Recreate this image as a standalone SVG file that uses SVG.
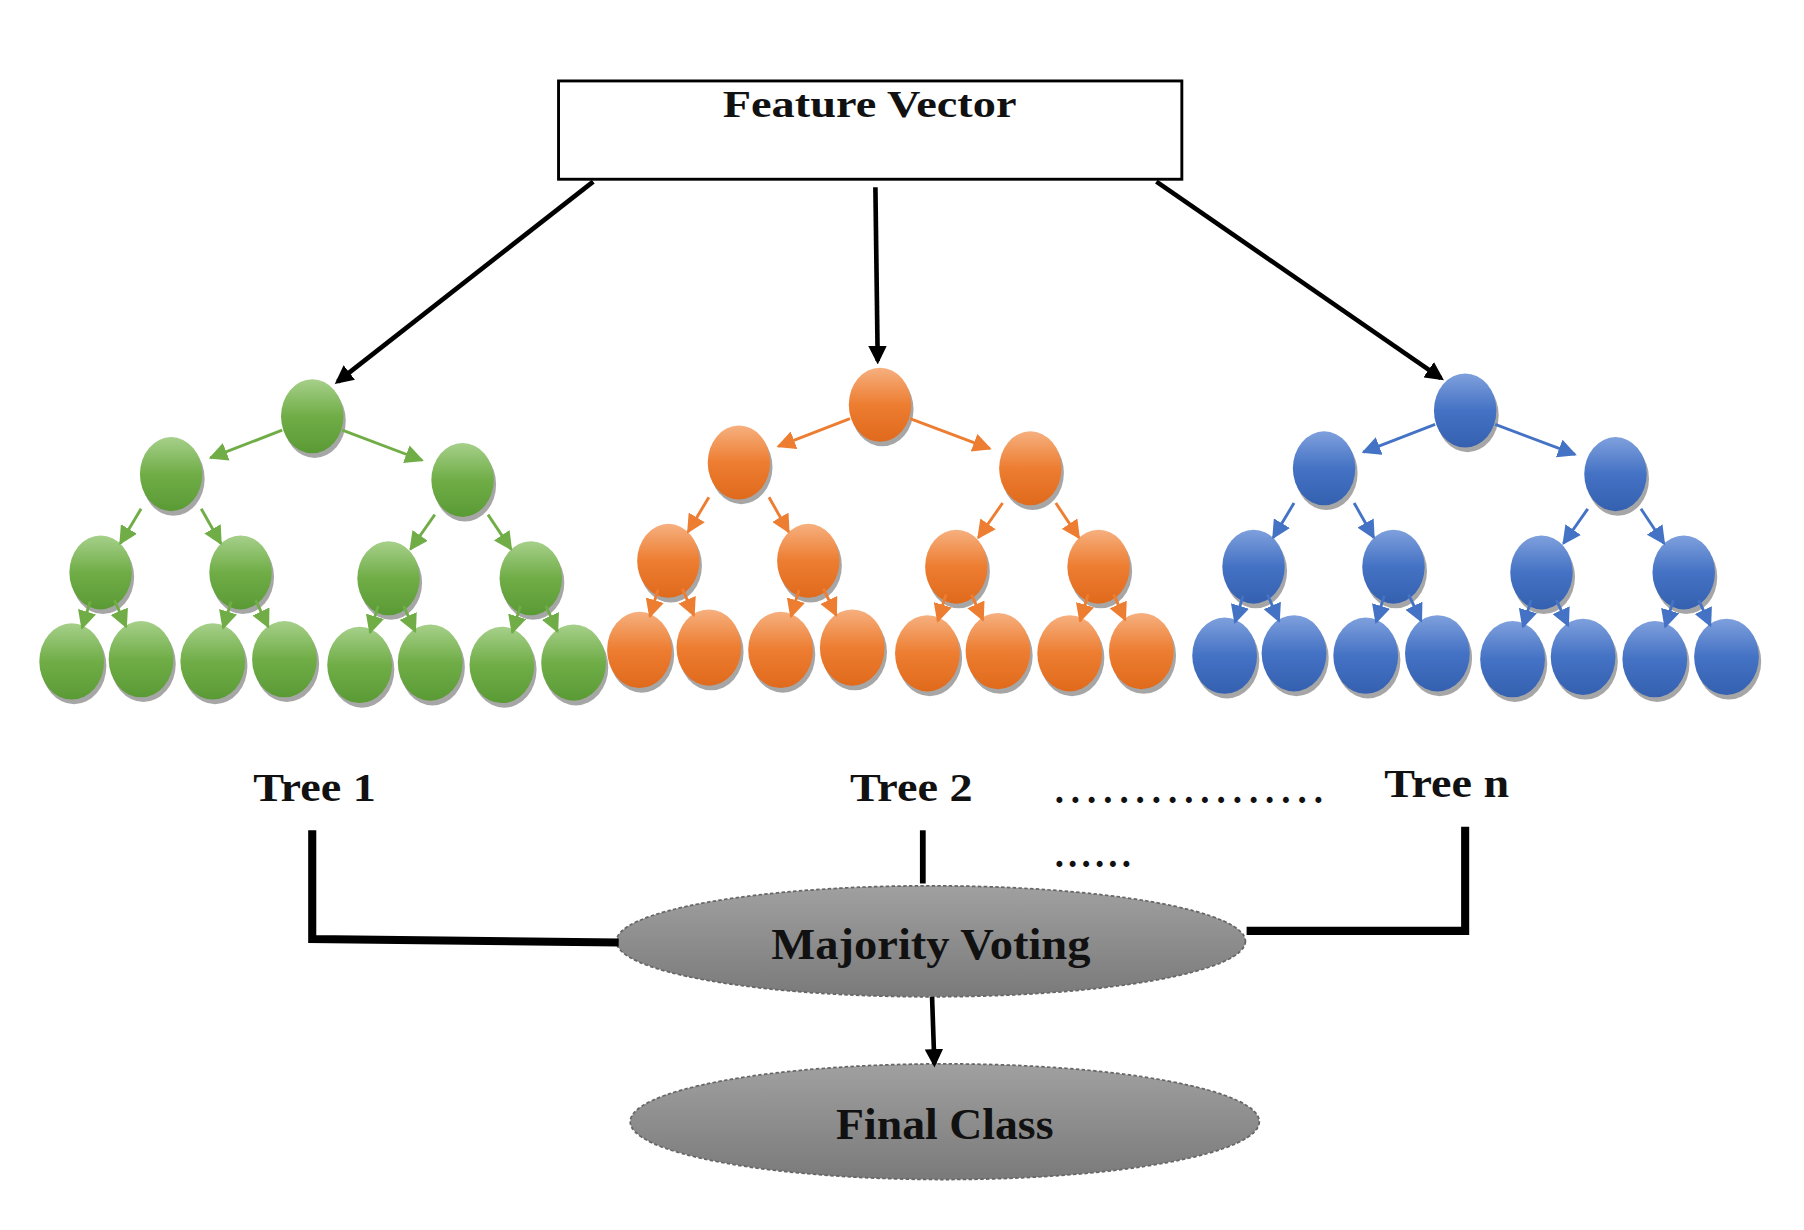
<svg xmlns="http://www.w3.org/2000/svg" width="1804" height="1230" viewBox="0 0 1804 1230">
<style>
text{font-family:"Liberation Serif","Times New Roman",serif;font-weight:bold;fill:#111;text-anchor:middle}
.bl{stroke:#000;fill:none}
.eg{stroke:#70ad47;stroke-width:2.5;marker-end:url(#mg)}
.eo{stroke:#ed7d31;stroke-width:2.5;marker-end:url(#mo)}
.eb{stroke:#4472c4;stroke-width:2.5;marker-end:url(#mb)}
</style>
<defs>
<linearGradient id="gg" x1="0" y1="0" x2="0" y2="1"><stop offset="0" stop-color="#a6d08a"/><stop offset="0.5" stop-color="#70ad47"/><stop offset="1" stop-color="#5a9a35"/></linearGradient>
<linearGradient id="go" x1="0" y1="0" x2="0" y2="1"><stop offset="0" stop-color="#f6b07f"/><stop offset="0.5" stop-color="#ed7d31"/><stop offset="1" stop-color="#e06a1c"/></linearGradient>
<linearGradient id="gb" x1="0" y1="0" x2="0" y2="1"><stop offset="0" stop-color="#7fa0dd"/><stop offset="0.5" stop-color="#4472c4"/><stop offset="1" stop-color="#3560b0"/></linearGradient>
<linearGradient id="gy" x1="0" y1="0" x2="0" y2="1"><stop offset="0" stop-color="#a0a0a0"/><stop offset="1" stop-color="#7a7a7a"/></linearGradient>
<marker id="mg" viewBox="0 0 10 10" refX="9" refY="5" markerWidth="6.5" markerHeight="6.5" orient="auto"><path d="M0,0L10,5L0,10z" fill="#70ad47"/></marker>
<marker id="mo" viewBox="0 0 10 10" refX="9" refY="5" markerWidth="6.5" markerHeight="6.5" orient="auto"><path d="M0,0L10,5L0,10z" fill="#ed7d31"/></marker>
<marker id="mb" viewBox="0 0 10 10" refX="9" refY="5" markerWidth="6.5" markerHeight="6.5" orient="auto"><path d="M0,0L10,5L0,10z" fill="#4472c4"/></marker>
<marker id="mk" viewBox="0 0 10 10" refX="8" refY="5" markerWidth="4" markerHeight="4" orient="auto"><path d="M0,0L10,5L0,10z" fill="#000"/></marker>
<g id="nodes">
<g transform="translate(0,0)"><ellipse cx="2" cy="4" rx="27" ry="32" fill="#000" opacity="0.35"/><ellipse rx="27" ry="32"/></g>
<g transform="translate(-122,50)"><ellipse cx="2" cy="4" rx="27" ry="32" fill="#000" opacity="0.35"/><ellipse rx="27" ry="32"/></g>
<g transform="translate(130,55)"><ellipse cx="2" cy="4" rx="27" ry="32" fill="#000" opacity="0.35"/><ellipse rx="27" ry="32"/></g>
<g transform="translate(-183,135)"><ellipse cx="2" cy="4" rx="27" ry="32" fill="#000" opacity="0.35"/><ellipse rx="27" ry="32"/></g>
<g transform="translate(-62,135)"><ellipse cx="2" cy="4" rx="27" ry="32" fill="#000" opacity="0.35"/><ellipse rx="27" ry="32"/></g>
<g transform="translate(66,140)"><ellipse cx="2" cy="4" rx="27" ry="32" fill="#000" opacity="0.35"/><ellipse rx="27" ry="32"/></g>
<g transform="translate(189,140)"><ellipse cx="2" cy="4" rx="27" ry="32" fill="#000" opacity="0.35"/><ellipse rx="27" ry="32"/></g>
<g transform="translate(-208,212)"><ellipse cx="2" cy="4" rx="28" ry="33" fill="#000" opacity="0.35"/><ellipse rx="28" ry="33"/></g>
<g transform="translate(-148,210)"><ellipse cx="2" cy="4" rx="28" ry="33" fill="#000" opacity="0.35"/><ellipse rx="28" ry="33"/></g>
<g transform="translate(-86,212)"><ellipse cx="2" cy="4" rx="28" ry="33" fill="#000" opacity="0.35"/><ellipse rx="28" ry="33"/></g>
<g transform="translate(-24,210)"><ellipse cx="2" cy="4" rx="28" ry="33" fill="#000" opacity="0.35"/><ellipse rx="28" ry="33"/></g>
<g transform="translate(41,215)"><ellipse cx="2" cy="4" rx="28" ry="33" fill="#000" opacity="0.35"/><ellipse rx="28" ry="33"/></g>
<g transform="translate(102,213)"><ellipse cx="2" cy="4" rx="28" ry="33" fill="#000" opacity="0.35"/><ellipse rx="28" ry="33"/></g>
<g transform="translate(164,215)"><ellipse cx="2" cy="4" rx="28" ry="33" fill="#000" opacity="0.35"/><ellipse rx="28" ry="33"/></g>
<g transform="translate(226,213)"><ellipse cx="2" cy="4" rx="28" ry="33" fill="#000" opacity="0.35"/><ellipse rx="28" ry="33"/></g>
</g>
<g id="edges">
<line x1="-26" y1="12" x2="-88" y2="36"/><line x1="26" y1="12" x2="95" y2="38"/>
<line x1="-148" y1="80" x2="-166" y2="110"/><line x1="-96" y1="80" x2="-79" y2="110"/>
<line x1="106" y1="85" x2="85" y2="115"/><line x1="152" y1="85" x2="172" y2="115"/>
<line x1="-192" y1="160" x2="-199" y2="183"/><line x1="-171" y1="159" x2="-161" y2="182"/>
<line x1="-70" y1="160" x2="-77" y2="183"/><line x1="-49" y1="159" x2="-38" y2="182"/>
<line x1="57" y1="164" x2="50" y2="187"/><line x1="79" y1="164" x2="89" y2="186"/>
<line x1="180" y1="164" x2="173" y2="187"/><line x1="202" y1="164" x2="212" y2="186"/>
</g>
</defs>
<rect width="1804" height="1230" fill="#fff"/>
<g transform="scale(1.1564)">
<g id="feature-vector"><rect x="483" y="70" width="539" height="85" fill="#fff" stroke="#000" stroke-width="2.5"/><text x="752" y="101" font-size="33" textLength="254" lengthAdjust="spacingAndGlyphs">Feature Vector</text></g>
<g id="tree1" transform="translate(270,360)"><use href="#nodes" fill="url(#gg)"/><use href="#edges" class="eg"/></g>
<g id="tree2" transform="translate(761,350)"><use href="#nodes" fill="url(#go)"/><use href="#edges" class="eo"/></g>
<g id="treen" transform="translate(1267,355)"><use href="#nodes" fill="url(#gb)"/><use href="#edges" class="eb"/></g>
<g id="labels">
<text x="272" y="693" font-size="35" textLength="106" lengthAdjust="spacingAndGlyphs">Tree 1</text>
<text x="788" y="693" font-size="35" textLength="106" lengthAdjust="spacingAndGlyphs">Tree 2</text>
<text x="1251" y="689" font-size="35" textLength="108" lengthAdjust="spacingAndGlyphs">Tree n</text>
<text x="1028" y="694" font-size="32" textLength="232" lengthAdjust="spacing">.................</text>
<text x="945" y="750" font-size="32" textLength="66" lengthAdjust="spacing">......</text>
</g>
<g id="majority-voting"><ellipse cx="805" cy="814" rx="272" ry="48" fill="url(#gy)" stroke="#666" stroke-width="1.5" stroke-dasharray="3 2"/><text x="805" y="829" font-size="38" textLength="276" lengthAdjust="spacingAndGlyphs">Majority Voting</text></g>
<g id="final-class"><ellipse cx="817" cy="970" rx="272" ry="50" fill="url(#gy)" stroke="#666" stroke-width="1.5" stroke-dasharray="3 2"/><text x="817" y="985" font-size="38" textLength="188" lengthAdjust="spacingAndGlyphs">Final Class</text></g>
<g id="connectors">
<line class="bl" x1="513" y1="157" x2="292" y2="330" stroke-width="4" marker-end="url(#mk)"/>
<line class="bl" x1="757" y1="162" x2="759" y2="312" stroke-width="4" marker-end="url(#mk)"/>
<line class="bl" x1="1000" y1="157" x2="1246" y2="327" stroke-width="4" marker-end="url(#mk)"/>
<polyline class="bl" points="270,718 270,812 535,815" stroke-width="7"/>
<line class="bl" x1="798" y1="718" x2="798" y2="764" stroke-width="5"/>
<polyline class="bl" points="1267,715 1267,805 1078,805" stroke-width="7"/>
<line class="bl" x1="806" y1="862" x2="808" y2="920" stroke-width="4" marker-end="url(#mk)"/>
</g>
</g>
</svg>
